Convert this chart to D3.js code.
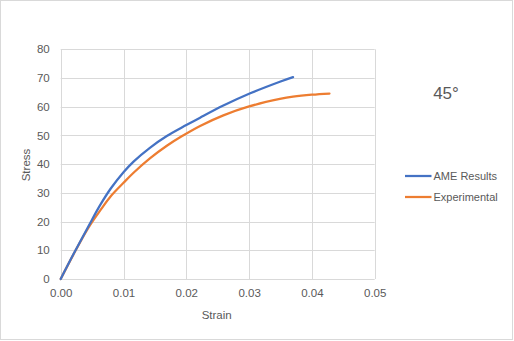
<!DOCTYPE html>
<html>
<head>
<meta charset="utf-8">
<script src="https://cdn.jsdelivr.net/npm/d3@7"></script>
<style>
  html, body { margin: 0; padding: 0; background: #fff; }
  svg { display: block; }
  text { font-family: "Liberation Sans", Arial, sans-serif; fill: #595959; }
</style>
</head>
<body>
<svg id="chart" width="514" height="341"></svg>
<script>
// Stress–strain curves, 45° orientation
const ameStrain = [0, 0.002, 0.0044, 0.0063, 0.0080, 0.0100, 0.0116, 0.0142, 0.0169, 0.0200, 0.0222, 0.0259, 0.0300, 0.0349, 0.0370];
const ameStress = [0, 8.5, 18.3, 25.8, 31.6, 37.2, 40.9, 45.7, 49.8, 53.6, 56.2, 60.4, 64.5, 68.7, 70.3];

const expStrain = [0, 0.002, 0.0044, 0.0065, 0.0080, 0.0100, 0.0116, 0.0142, 0.0169, 0.0192, 0.0222, 0.0259, 0.0300, 0.0349, 0.0370, 0.0400, 0.0428];
const expStress = [0, 8.4, 17.8, 24.5, 28.9, 33.5, 37.0, 42.0, 46.4, 49.6, 53.3, 57.0, 60.1, 62.7, 63.5, 64.2, 64.6];

const xTicks = [0, 0.01, 0.02, 0.03, 0.04, 0.05];
const yTicks = [0, 10, 20, 30, 40, 50, 60, 70, 80];
const seriesNames = ["AME Results", "Experimental"];
const seriesColors = ["#4472C4", "#ED7D31"];
const chartTitle = "45°";

const svg = d3.select("#chart");

// outer chart frame
svg.append("rect")
  .attr("x", 0.5).attr("y", 0.5)
  .attr("width", 512).attr("height", 339)
  .attr("fill", "#fff").attr("stroke", "#d9d9d9");

const plot = { left: 60.7, right: 374.7, top: 49.3, bottom: 279 };

const x = d3.scaleLinear().domain([0, 0.05]).range([plot.left, plot.right]);
const y = d3.scaleLinear().domain([0, 80]).range([plot.bottom, plot.top]);

// gridlines
const grid = svg.append("g").attr("stroke", "#d9d9d9").attr("stroke-width", 1);
grid.selectAll("line.h").data(yTicks).enter().append("line")
  .attr("x1", plot.left).attr("x2", plot.right)
  .attr("y1", d => Math.round(y(d)) + 0.5).attr("y2", d => Math.round(y(d)) + 0.5);
grid.selectAll("line.v").data(xTicks).enter().append("line")
  .attr("y1", plot.top).attr("y2", plot.bottom)
  .attr("x1", d => Math.round(x(d)) + 0.5).attr("x2", d => Math.round(x(d)) + 0.5);

// axes (labels only)
const xAxis = d3.axisBottom(x).tickValues(xTicks).tickFormat(d3.format(".2f")).tickSize(0).tickPadding(10);
const yAxis = d3.axisLeft(y).tickValues(yTicks).tickFormat(d3.format("d")).tickSize(0).tickPadding(11);

const gx = svg.append("g").attr("transform", `translate(0,${plot.bottom})`).call(xAxis);
const gy = svg.append("g").attr("transform", `translate(${plot.left},0)`).call(yAxis);
[gx, gy].forEach(g => {
  g.select(".domain").remove();
  g.selectAll("text").attr("font-size", 11.5).attr("fill", "#595959")
    .style("font-family", "'Liberation Sans', Arial, sans-serif");
});

// axis titles
svg.append("text").attr("x", 216.7).attr("y", 318.5)
  .attr("text-anchor", "middle").attr("font-size", 11.5).text("Strain");
svg.append("text")
  .attr("transform", "translate(30,165) rotate(-90)")
  .attr("text-anchor", "middle").attr("font-size", 11.5).text("Stress");

// series
const line = d3.line().x(d => x(d[0])).y(d => y(d[1])).curve(d3.curveCatmullRom.alpha(0.5));
const series = [
  d3.zip(ameStrain, ameStress),
  d3.zip(expStrain, expStress)
];
// draw experimental first so AME sits on top
[1, 0].forEach(i => {
  svg.append("path").datum(series[i])
    .attr("d", line)
    .attr("fill", "none")
    .attr("stroke", seriesColors[i])
    .attr("stroke-width", 2.25)
    .attr("stroke-linejoin", "round")
    .attr("stroke-linecap", "round");
});

// title
svg.append("text").attr("x", 446).attr("y", 99)
  .attr("text-anchor", "middle").attr("font-size", 17).text(chartTitle);

// legend
const legend = svg.append("g");
seriesNames.forEach((name, i) => {
  const ly = 176 + i * 21;
  legend.append("line")
    .attr("x1", 405).attr("x2", 431.5)
    .attr("y1", ly).attr("y2", ly)
    .attr("stroke", seriesColors[i]).attr("stroke-width", 2.25);
  legend.append("text")
    .attr("x", 433.5).attr("y", ly + 4)
    .attr("font-size", 11).text(name);
});
</script>
</body>
</html>
